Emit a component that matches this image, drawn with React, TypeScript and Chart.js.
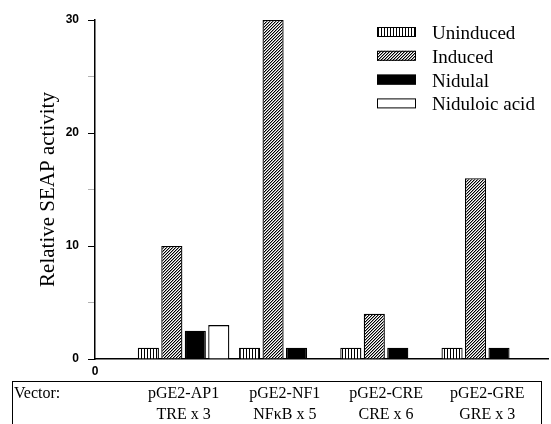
import React, { useEffect, useRef } from 'react';
import { Chart, registerables } from 'chart.js';

Chart.register(...registerables);

const VECTORS = ['pGE2-AP1', 'pGE2-NF1', 'pGE2-CRE', 'pGE2-GRE'];
const ELEMENTS = ['TRE x 3', 'NFκB x 5', 'CRE x 6', 'GRE x 3'];
const SERIES_NAMES = ['Uninduced', 'Induced', 'Nidulal', 'Niduloic acid'];
const UNINDUCED = [1, 1, 1, 1];
const INDUCED = [10, 30, 4, 16];
const NIDULAL = [2.5, 1, 1, 1];
const NIDULOIC_ACID: (number | null)[] = [3, null, null, null];
const Y_TICK_LABELS = [0, 10, 20, 30];
const ORIGIN_LABEL = '0';
const TABLE_HEADER = 'Vector:';
const Y_TITLE = 'Relative SEAP activity';

function makeStripes(ctx: CanvasRenderingContext2D) {
  const c = document.createElement('canvas');
  c.width = 3; c.height = 3;
  const g = c.getContext('2d')!;
  g.fillStyle = '#fff'; g.fillRect(0, 0, 3, 3);
  g.fillStyle = '#000'; g.fillRect(0, 0, 1, 3);
  return ctx.createPattern(c, 'repeat')!;
}

function makeHatch(ctx: CanvasRenderingContext2D) {
  const c = document.createElement('canvas');
  c.width = 3; c.height = 3;
  const g = c.getContext('2d')!;
  g.fillStyle = '#fff'; g.fillRect(0, 0, 3, 3);
  for (let x = 0; x < 3; x++) {
    g.fillStyle = '#000'; g.fillRect(x, 2 - x, 1, 1);
    g.fillStyle = '#999'; g.fillRect((x + 1) % 3, 2 - x, 1, 1);
  }
  return ctx.createPattern(c, 'repeat')!;
}

const decorPlugin = {
  id: 'decor',
  afterDraw(chart: any) {
    const ctx = chart.ctx as CanvasRenderingContext2D;
    ctx.save();
    chart.data.datasets.forEach((ds: any, i: number) => {
      const cy = 32 + i * 23.8;
      ctx.fillStyle = ds.backgroundColor;
      ctx.fillRect(377, cy - 5, 39, 10);
      ctx.strokeStyle = '#000';
      ctx.lineWidth = 1;
      ctx.strokeRect(377.5, cy - 4.5, 38, 9);
      ctx.fillStyle = '#000';
      ctx.font = '19px "Liberation Serif"';
      ctx.textBaseline = 'middle';
      ctx.textAlign = 'left';
      ctx.fillText(ds.label, 432, cy + 2);
    });
    ctx.strokeStyle = '#000';
    ctx.lineWidth = 1;
    ctx.strokeRect(12.5, 381.5, 529, 60);
    ctx.fillStyle = '#000';
    ctx.font = '16px "Liberation Serif"';
    ctx.textBaseline = 'middle';
    ctx.fillText(TABLE_HEADER, 14, 394);
    ctx.restore();
  },
};

export default function App() {
  const ref = useRef<HTMLCanvasElement>(null);
  useEffect(() => {
    const canvas = ref.current!;
    const ctx = canvas.getContext('2d')!;
    const fills = [makeStripes(ctx), makeHatch(ctx), '#000', '#fff'];
    const series = [UNINDUCED, INDUCED, NIDULAL, NIDULOIC_ACID];
    const xMin = -0.875;
    const chart = new Chart(canvas, {
      type: 'bar',
      data: {
        datasets: series.map((vals, s) => ({
          label: SERIES_NAMES[s],
          data: vals.map((v, i) => ({ x: i, y: v })),
          backgroundColor: fills[s] as any,
          borderColor: '#000',
          borderWidth: 1.3,
          borderSkipped: 'bottom',
          categoryPercentage: 1.06,
          barPercentage: 0.9,
        })),
      },
      options: {
        animation: false,
        responsive: false,
        layout: { padding: { top: 20, right: 3, left: 0, bottom: 0 } },
        plugins: { legend: { display: false }, tooltip: { enabled: false } },
        scales: {
          x: {
            type: 'linear',
            offset: false,
            min: xMin,
            max: 3.6,
            afterBuildTicks: (scale: any) => {
              scale.ticks = [xMin, ...VECTORS.map((_, i) => i)].map((v) => ({ value: v }));
            },
            afterFit: (scale: any) => { scale.height = 65; },
            grid: { display: true, offset: false, drawOnChartArea: false, drawTicks: false },
            border: { display: true, color: '#000', width: 1.5 },
            ticks: {
              autoSkip: false,
              maxRotation: 0,
              minRotation: 0,
              padding: 3.5,
              color: '#000',
              font: (c: any) =>
                c.index === 0
                  ? { family: '"Liberation Sans"', weight: 'bold', size: 12, lineHeight: '19px' }
                  : { family: '"Liberation Serif"', size: 16, lineHeight: '21px' },
              callback: (_v: any, i: number) =>
                i === 0 ? ORIGIN_LABEL : ['', VECTORS[i - 1], ELEMENTS[i - 1]],
            },
          },
          y: {
            min: 0,
            max: 30,
            afterFit: (scale: any) => { scale.width = 95; },
            grid: {
              display: true,
              drawOnChartArea: false,
              drawTicks: true,
              tickLength: 7,
              tickColor: (c: any) =>
                Y_TICK_LABELS.includes(c.tick.value) ? '#000' : 'rgba(0,0,0,0.3)',
              tickWidth: 1,
            },
            border: { display: true, color: '#000', width: 1.5 },
            ticks: {
              stepSize: 5,
              padding: 9,
              color: '#000',
              font: { family: '"Liberation Sans"', weight: 'bold', size: 12 },
              callback: (v: any) => (Y_TICK_LABELS.includes(v) ? String(v) : ''),
            },
            title: {
              display: true,
              text: Y_TITLE,
              color: '#000',
              font: { family: '"Liberation Serif"', size: 21 },
              padding: { top: 36, bottom: 0 },
            },
          },
        },
      },
      plugins: [decorPlugin],
    });
    return () => chart.destroy();
  }, []);
  return (
    <div style={{ position: 'fixed', left: 0, top: 0, width: 551, height: 424, background: '#fff' }}>
      <canvas ref={ref} width={551} height={424} />
    </div>
  );
}
